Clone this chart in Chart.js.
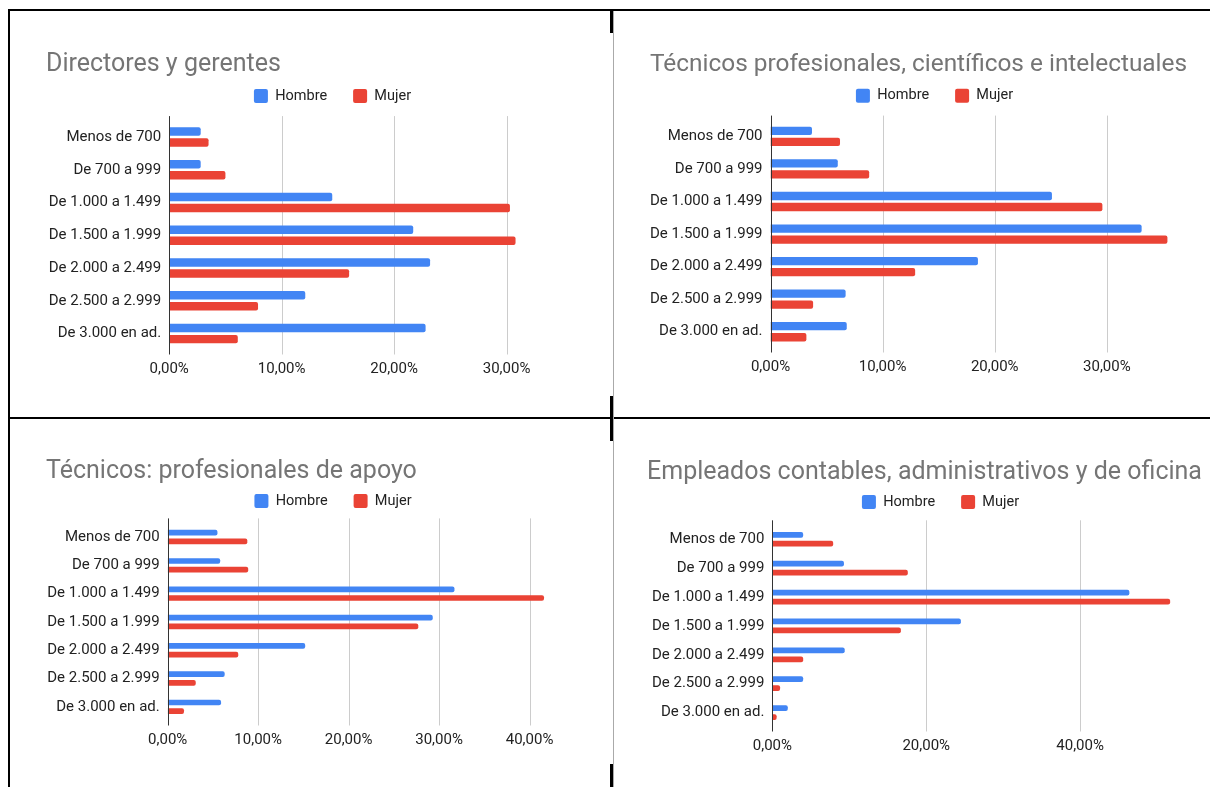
<!DOCTYPE html>
<html lang="es">
<head>
<meta charset="utf-8">
<title>Ingresos por grupo ocupacional y sexo</title>
<script src="https://cdn.jsdelivr.net/npm/chart.js@4.4.1/dist/chart.umd.min.js"></script>
<style>
  html, body { margin: 0; padding: 0; background: #fff; }
  body { position: relative; width: 1210px; height: 787px; overflow: hidden; }
  canvas { position: absolute; }
  .rule { position: absolute; background: #000; }
  .rule.light { background: #aaa; }
</style>
</head>
<body>
  <canvas id="chartDirectores"></canvas>
  <canvas id="chartCientificos"></canvas>
  <canvas id="chartApoyo"></canvas>
  <canvas id="chartOficina"></canvas>

  <!-- table rules around the four charts -->
  <div class="rule" style="left:8px;top:9px;width:1202px;height:2px"></div>
  <div class="rule" style="left:8px;top:9px;width:2px;height:778px"></div>
  <div class="rule" style="left:8px;top:417px;width:1202px;height:2px"></div>
  <div class="rule light" style="left:613px;top:11px;width:1px;height:776px"></div>
  <div class="rule" style="left:610px;top:9px;width:3px;height:24px"></div>
  <div class="rule" style="left:610px;top:396px;width:3px;height:45px"></div>
  <div class="rule" style="left:610px;top:764px;width:3px;height:23px"></div>

<script>
// Income brackets (soles) shared by every chart
const categories = [
    'Menos de 700',
    'De 700 a 999',
    'De 1.000 a 1.499',
    'De 1.500 a 1.999',
    'De 2.000 a 2.499',
    'De 2.500 a 2.999',
    'De 3.000 en ad.'
];

const seriesNames = ['Hombre', 'Mujer'];

// Share of workers in each bracket (%)
const directoresHombre = [2.8, 2.8, 14.5, 21.7, 23.2, 12.1, 22.8];
const directoresMujer  = [3.5, 5.0, 30.3, 30.8, 16.0, 7.9, 6.1];

const cientificosHombre = [3.7, 6.0, 25.1, 33.1, 18.5, 6.7, 6.8];
const cientificosMujer  = [6.2, 8.8, 29.6, 35.4, 12.9, 3.8, 3.2];

const apoyoHombre = [5.5, 5.8, 31.7, 29.3, 15.2, 6.3, 5.9];
const apoyoMujer  = [8.8, 8.9, 41.6, 27.7, 7.8, 3.1, 1.8];

const oficinaHombre = [4.0, 9.3, 46.4, 24.5, 9.4, 4.0, 2.0];
const oficinaMujer  = [7.9, 17.6, 51.7, 16.7, 4.0, 1.0, 0.55];

const titles = [
    'Directores y gerentes',
    'Técnicos profesionales, científicos e intelectuales',
    'Técnicos: profesionales de apoyo',
    'Empleados contables, administrativos y de oficina'
];

// Value axis ranges (%)
const axisMax  = [40, 40, 50, 60];
const axisStep = [10, 10, 10, 20];

const HOMBRE_COLOR = '#4285f4';
const MUJER_COLOR = '#ea4335';

Chart.defaults.font.family = "Roboto, 'Noto Sans', sans-serif";
Chart.defaults.color = '#222';

/**
 * Pushes the plot area down a little below the legend
 */
const legendGap = {
    id: 'legendGap',
    beforeInit(chart, args, opts) {
        const legend = chart.legend;
        const fit = legend.fit;
        legend.fit = function () {
            fit.call(legend);
            legend.height += opts.extra || 0;
        };
    }
};

/**
 * Vertical grid lines and zero baseline, a few px taller than the bars area
 */
const valueGrid = {
    id: 'valueGrid',
    beforeDatasetsDraw(chart, args, opts) {
        const { ctx, chartArea, scales } = chart;
        const ext = opts.extend || 0;
        ctx.save();
        ctx.lineWidth = 1;
        ctx.strokeStyle = opts.color;
        scales.x.ticks.forEach(tick => {
            if (tick.value === 0) return;
            const px = Math.round(scales.x.getPixelForValue(tick.value)) + 0.5;
            ctx.beginPath();
            ctx.moveTo(px, chartArea.top - ext);
            ctx.lineTo(px, chartArea.bottom + ext);
            ctx.stroke();
        });
        ctx.restore();
    },
    afterDatasetsDraw(chart, args, opts) {
        const { ctx, chartArea, scales } = chart;
        const ext = opts.extend || 0;
        const px = Math.round(scales.x.getPixelForValue(0)) + 0.5;
        ctx.save();
        ctx.lineWidth = 1;
        ctx.strokeStyle = opts.baseColor;
        ctx.beginPath();
        ctx.moveTo(px, chartArea.top - ext);
        ctx.lineTo(px, chartArea.bottom + ext);
        ctx.stroke();
        ctx.restore();
    }
};

// Placement of each chart on the page
const panels = [
    {
        id: 'chartDirectores', hombre: directoresHombre, mujer: directoresMujer,
        left: 46, top: 11, width: 573, height: 379, axisWidth: 123.2, titleSize: 25,
        titlePad: { top: 41.5, bottom: -14.75 }, gap: 7.35, catPct: 0.672, barPct: 0.77
    },
    {
        id: 'chartCientificos', hombre: cientificosHombre, mujer: cientificosMujer,
        left: 650, top: 11, width: 569, height: 377, axisWidth: 120.5, titleSize: 24.4,
        titlePad: { top: 41.8, bottom: -14.75 }, gap: 7.15, catPct: 0.676, barPct: 0.755
    },
    {
        id: 'chartApoyo', hombre: apoyoHombre, mujer: apoyoMujer,
        left: 46, top: 419, width: 574, height: 342, axisWidth: 121.7, titleSize: 25,
        titlePad: { top: 40.3, bottom: -16.55 }, gap: 4.65, catPct: 0.615, barPct: 0.66
    },
    {
        id: 'chartOficina', hombre: oficinaHombre, mujer: oficinaMujer,
        left: 647, top: 419, width: 587, height: 348, axisWidth: 125.4, titleSize: 25,
        titlePad: { top: 41.5, bottom: -16.75 }, gap: 5.55, catPct: 0.622, barPct: 0.64
    }
];

function formatPercent(value) {
    return Number(value).toFixed(2).replace('.', ',') + '%';
}

panels.forEach((p, i) => {
    const canvas = document.getElementById(p.id);
    canvas.width = p.width;
    canvas.height = p.height;
    canvas.style.left = p.left + 'px';
    canvas.style.top = p.top + 'px';

    new Chart(canvas.getContext('2d'), {
        type: 'bar',
        data: {
            labels: categories,
            datasets: [
                {
                    label: seriesNames[0],
                    data: p.hombre,
                    backgroundColor: HOMBRE_COLOR,
                    borderWidth: 0,
                    borderRadius: 2,
                    categoryPercentage: p.catPct,
                    barPercentage: p.barPct
                },
                {
                    label: seriesNames[1],
                    data: p.mujer,
                    backgroundColor: MUJER_COLOR,
                    borderWidth: 0,
                    borderRadius: 2,
                    categoryPercentage: p.catPct,
                    barPercentage: p.barPct
                }
            ]
        },
        options: {
            indexAxis: 'y',
            responsive: false,
            animation: false,
            events: [],
            layout: { padding: 0 },
            plugins: {
                title: {
                    display: true,
                    text: titles[i],
                    align: 'start',
                    color: '#757575',
                    font: { size: p.titleSize, weight: 'normal', lineHeight: 1 },
                    padding: p.titlePad
                },
                legend: {
                    position: 'top',
                    labels: {
                        boxWidth: 14,
                        boxHeight: 14,
                        padding: 26,
                        color: '#222',
                        useBorderRadius: true,
                        borderRadius: 2,
                        font: { size: 14.5 }
                    }
                },
                tooltip: { enabled: false },
                legendGap: { extra: p.gap },
                valueGrid: { extend: 4.5, color: '#cccccc', baseColor: '#333333' }
            },
            scales: {
                x: {
                    min: 0,
                    max: axisMax[i],
                    grid: { display: false, drawTicks: false },
                    border: { display: false },
                    ticks: {
                        stepSize: axisStep[i],
                        padding: 10,
                        color: '#222',
                        font: { size: 15 },
                        maxRotation: 0,
                        callback: formatPercent
                    },
                    afterBuildTicks(scale) {
                        scale.ticks = scale.ticks.filter(t => t.value < scale.max);
                    },
                    afterFit(scale) {
                        scale.height = 40;
                    }
                },
                y: {
                    offset: true,
                    grid: { display: false, drawTicks: false },
                    border: { display: false },
                    ticks: {
                        padding: 8,
                        color: '#222',
                        font: { size: 15 },
                        autoSkip: false
                    },
                    afterFit(scale) {
                        scale.width = p.axisWidth;
                    }
                }
            }
        },
        plugins: [legendGap, valueGrid]
    });
});
</script>
</body>
</html>
